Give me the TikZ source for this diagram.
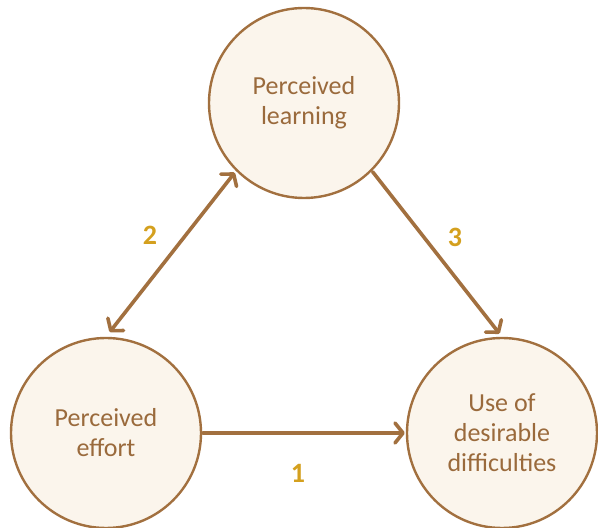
\documentclass[tikz,border=0pt]{standalone}
\usepackage{fontspec}
\setmainfont{Carlito}
\usetikzlibrary{arrows.meta}
\definecolor{brn}{HTML}{A2703F}
\definecolor{txt}{HTML}{9A6A3C}
\definecolor{cfill}{HTML}{FBF5EC}
\definecolor{gold}{HTML}{D4A01E}
\tikzset{
  bubble/.style={circle, draw=brn, line width=2.4pt, fill=cfill, minimum size=190pt, inner sep=0pt,
    align=center, text=txt, font=\fontsize{26}{30}\selectfont},
  barb/.tip={Straight Barb[length=8pt,width=20pt,line cap=round,line join=round]},
  link/.style={draw=brn, line width=3.6pt, line cap=round, -barb},
  num/.style={text=gold, font=\fontsize{28}{32}\selectfont\bfseries}
}
\begin{document}
\begin{tikzpicture}[x=1pt,y=1pt]
\useasboundingbox (0,0) rectangle (598,528);
\node[bubble] (pl) at (304,425) {Perceived\\learning};
\node[bubble] (pe) at (106,95) {Perceived\\effort};
\node[bubble] (ud) at (502,95) {Use of\\desirable\\difficulties};
\draw[link, barb-barb, shorten <=2pt, shorten >=6pt] (pl.-135) -- (pe.90);
\draw[link, shorten <=1pt, shorten >=4pt] (pl.-45) -- (ud.90);
\draw[link, shorten <=1pt, shorten >=1pt] (pe.0) -- (ud.180);
\node[num] (n2) at (150,293) {2};
\node[num] (n3) at (455,291) {3};
\node[num] (n1) at (298,55) {1};
\end{tikzpicture}
\end{document}
